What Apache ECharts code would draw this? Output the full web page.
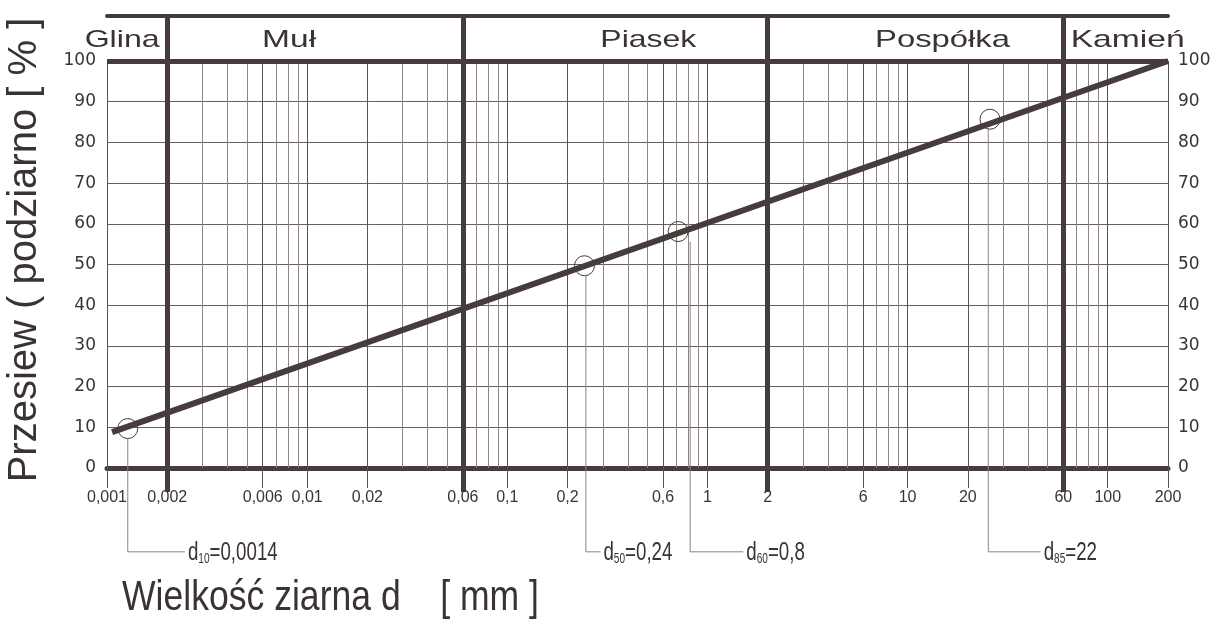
<!DOCTYPE html>
<html><head><meta charset="utf-8">
<script src="https://cdn.jsdelivr.net/npm/echarts@6/dist/echarts.min.js"></script>
<style>html,body{margin:0;padding:0;background:#fff}#c{width:1218px;height:621px}</style>
</head><body><div id="c"></div>
<script>
// ---------- data ----------
const fractionNames = ['Glina', 'Muł', 'Piasek', 'Pospółka', 'Kamień'];
const fractionBounds = [0.001, 0.002, 0.06, 2, 60, 200];
const xTickValues = [0.001, 0.002, 0.006, 0.01, 0.02, 0.06, 0.1, 0.2, 0.6, 1, 2, 6, 10, 20, 60, 100, 200];
const xTickLabels = ['0,001', '0,002', '0,006', '0,01', '0,02', '0,06', '0,1', '0,2', '0,6', '1', '2', '6', '10', '20', '60', '100', '200'];
const minorGridValues = [0.003, 0.004, 0.005, 0.007, 0.008, 0.009,
  0.03, 0.04, 0.05, 0.07, 0.08, 0.09,
  0.3, 0.4, 0.5, 0.7, 0.8, 0.9,
  3, 4, 5, 7, 8, 9,
  30, 40, 50, 70, 80, 90];
const yTickValues = [0, 10, 20, 30, 40, 50, 60, 70, 80, 90, 100];
const curveX = [0.00106, 200];
const curveY = [8.8, 100];
const pointSubs = ['10', '50', '60', '85'];
const pointX = [0.00127, 0.243, 0.714, 25.8];
const pointY = [9.7, 49.7, 58.1, 85.7];
const leaderX = [0.00127, 0.247, 0.82, 25.3];
const leaderEndX = [0.00245, 0.292, 1.51, 46.2];
const leaderText = ['0,0014', '0,24', '0,8', '22'];
const leaderLevel = -20.6;

// ---------- style ----------
const DARK = '#463c3c';
const TEXT = '#3a3334';
const MINOR = '#8c8484';
const MAJOR = '#5c5353';
const HGRID = '#675e5e';
const LEADER = '#8a8282';
const SANS = '"Liberation Sans", Arial, sans-serif';

function tickLabel(v) {
  let best = 0, bd = Infinity;
  xTickValues.forEach((t, i) => { const d = Math.abs(Math.log10(v / t)); if (d < bd) { bd = d; best = i; } });
  return bd < 0.01 ? xTickLabels[best] : '';
}

const chart = echarts.init(document.getElementById('c'));
const logAxis = { type: 'log', logBase: 10, min: fractionBounds[0], max: fractionBounds[fractionBounds.length - 1] };
const yMin = yTickValues[0], yMax = yTickValues[yTickValues.length - 1];

const gridLines = [];
minorGridValues.forEach(v => gridLines.push({ coords: [[v, yMin], [v, yMax]], lineStyle: { color: MINOR, width: 1 } }));
xTickValues.forEach(v => gridLines.push({ coords: [[v, yMin], [v, yMax]], lineStyle: { color: MAJOR, width: 1 } }));
fractionBounds.slice(1, -1).forEach(v => gridLines.push({ coords: [[v, yMin], [v, yMax]], lineStyle: { color: DARK, width: 5 } }));
gridLines.push({ coords: [[fractionBounds[0], yMax], [fractionBounds[fractionBounds.length - 1], yMax]], lineStyle: { color: DARK, width: 5 } });

const option = {
  animation: false,
  backgroundColor: '#fff',
  grid: [
    { left: 107, right: 50, top: 61, bottom: 153 },
    { left: 107, right: 50, top: 16, height: 45 }
  ],
  xAxis: [
    Object.assign({}, logAxis, {
      gridIndex: 0, position: 'bottom',
      axisLine: { show: true, onZero: false, lineStyle: { color: DARK, width: 5 } },
      axisTick: { show: true, customValues: xTickValues, length: 20, lineStyle: { color: MAJOR, width: 1 } },
      axisLabel: { show: true, customValues: xTickValues, formatter: tickLabel, fontFamily: SANS, fontSize: 16, color: TEXT, margin: 22 },
      splitLine: { show: false }, minorTick: { show: false }
    }),
    Object.assign({}, logAxis, {
      gridIndex: 0, position: 'bottom',
      axisLine: { show: false, onZero: false },
      axisTick: { show: true, customValues: fractionBounds.slice(1, -1), length: 24, lineStyle: { color: DARK, width: 5 } },
      axisLabel: { show: false }, splitLine: { show: false }
    }),
    Object.assign({}, logAxis, {
      gridIndex: 1, position: 'top',
      axisLine: { show: true, onZero: false, lineStyle: { color: DARK, width: 4 } },
      axisTick: { show: false }, axisLabel: { show: false }, splitLine: { show: false }
    })
  ],
  yAxis: [
    { type: 'value', gridIndex: 0, position: 'left', min: yMin, max: yMax, interval: 10,
      axisLine: { show: false }, axisTick: { show: false },
      axisLabel: { fontFamily: 'DejaVu Sans', fontSize: 17, color: TEXT, margin: 11 },
      splitLine: { show: true, lineStyle: { color: HGRID, width: 1 } } },
    { type: 'value', gridIndex: 0, position: 'right', min: yMin, max: yMax, interval: 10,
      axisLine: { show: false }, axisTick: { show: false },
      axisLabel: { fontFamily: 'DejaVu Sans', fontSize: 17, color: TEXT, margin: 10 },
      splitLine: { show: false } },
    { type: 'value', gridIndex: 1, min: 0, max: 1, show: false }
  ],
  series: [
    { type: 'lines', coordinateSystem: 'cartesian2d', xAxisIndex: 0, yAxisIndex: 0, z: 1, silent: true, clip: false,
      data: gridLines, lineStyle: { opacity: 1 } },
    { type: 'lines', coordinateSystem: 'cartesian2d', xAxisIndex: 2, yAxisIndex: 2, z: 1, silent: true, clip: false,
      data: fractionBounds.slice(1, -1).map(v => ({ coords: [[v, 0], [v, 1]] })),
      lineStyle: { color: DARK, width: 5, opacity: 1 } },
    { type: 'line', xAxisIndex: 0, yAxisIndex: 0, z: 10, symbol: 'none', clip: false,
      data: curveX.map((x, i) => [x, curveY[i]]),
      lineStyle: { color: DARK, width: 6, cap: 'butt' } },
    { type: 'scatter', xAxisIndex: 0, yAxisIndex: 0, z: 9, symbol: 'circle', symbolSize: 20, silent: true,
      data: pointX.map((x, i) => [x, pointY[i]]),
      itemStyle: { color: 'rgba(0,0,0,0)', borderColor: DARK, borderWidth: 1, opacity: 1 } },
    { type: 'lines', coordinateSystem: 'cartesian2d', xAxisIndex: 0, yAxisIndex: 0, polyline: true, clip: false, z: 3, silent: true,
      data: leaderX.map((x, i) => ({ coords: [[x, pointY[i] - 2.5], [x, leaderLevel], [leaderEndX[i], leaderLevel]] })),
      lineStyle: { color: LEADER, width: 1, opacity: 1 } }
  ]
};
chart.setOption(option);

// ---------- text decorations placed through the chart's scales ----------
const headerDx = [-15, -26, 33, 27, 12];
const headerTargetW = [75, 54, 96, 135, 114];
const ctx = document.createElement('canvas').getContext('2d');
function textW(t, font) { ctx.font = font; return ctx.measureText(t).width; }
const HFONT = '24px ' + SANS;
const graphics = fractionNames.map((n, i) => {
  const mid = Math.sqrt(fractionBounds[i] * fractionBounds[i + 1]);
  const p = chart.convertToPixel({ gridIndex: 1 }, [mid, 0.5]);
  return { type: 'text', x: p[0] + headerDx[i], y: 40, scaleX: headerTargetW[i] / textW(n, HFONT), silent: true,
    style: { text: n, font: HFONT, fill: TEXT, align: 'center', verticalAlign: 'middle' } };
});
// d-value annotations at the end of each leader
leaderEndX.forEach((x, i) => {
  const p = chart.convertToPixel({ gridIndex: 0 }, [x, leaderLevel]);
  graphics.push({ type: 'text', x: p[0] + 3, y: p[1] - 3, scaleX: 0.72, silent: true,
    style: { text: '{d|d}{s|' + pointSubs[i] + '}{v|=' + leaderText[i] + '}', align: 'left', verticalAlign: 'middle',
      rich: {
        d: { font: '26px ' + SANS, fill: TEXT, lineHeight: 34, verticalAlign: 'bottom' },
        s: { font: '14px ' + SANS, fill: TEXT, lineHeight: 14, verticalAlign: 'bottom' },
        v: { font: '26px ' + SANS, fill: TEXT, lineHeight: 34, verticalAlign: 'bottom' }
      } } });
});
const XT = 'Wielkość ziarna d    [ mm ]';
const XFONT = '42px ' + SANS;
graphics.push({ type: 'text', x: 122, y: 598, scaleX: 417 / textW(XT, XFONT), silent: true,
  style: { text: XT, font: XFONT, fill: TEXT, align: 'left', verticalAlign: 'middle' } });
graphics.push({ type: 'text', x: 25, y: 250, rotation: Math.PI / 2, silent: true,
  style: { text: 'Przesiew ( podziarno [ % ]', font: '40px ' + SANS, fill: TEXT, align: 'center', verticalAlign: 'middle' } });
chart.setOption({ graphic: graphics });
</script>
</body></html>
